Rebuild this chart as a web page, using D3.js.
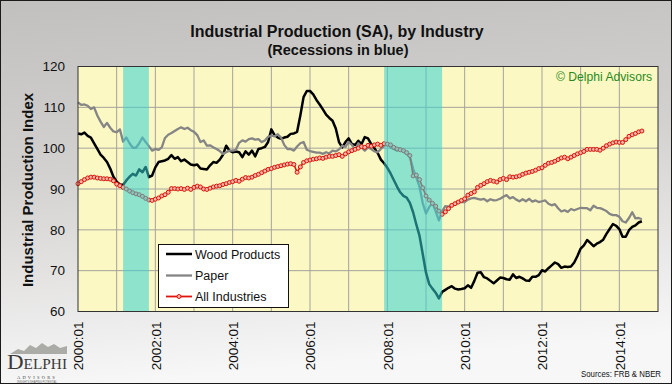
<!DOCTYPE html>
<html><head><meta charset="utf-8">
<script src="https://cdn.jsdelivr.net/npm/d3@7"></script>
<style>body{margin:0;background:#fff}svg{display:block}</style>
</head><body>
<script>
// ---------- data ----------
const xTickLabels = ["2000:01","2002:01","2004:01","2006:01","2008:01","2010:01","2012:01","2014:01"];
const yTicks = [60,70,80,90,100,110,120];
// recession spans as month offsets from 2000:01 (2001:03-2001:11, 2007:12-2009:06)
const recessions = [[14,22],[95,113]];
const seriesNames = ["Wood Products","Paper","All Industries"];

const wood = [
103.6,103.4,103.8,103.0,102.6,101.2,99.8,98.4,97.6,96.6,95.0,93.0,
91.8,91.1,91.0,92.1,93.0,93.7,93.3,94.8,94.1,95.4,92.9,93.3,
95.3,96.6,96.8,97.0,97.4,98.3,97.4,97.8,96.8,97.2,96.6,96.0,
95.8,96.0,95.0,94.9,94.8,95.8,96.6,96.4,97.2,98.4,100.6,99.4,
99.0,99.2,99.0,97.8,99.2,98.4,99.4,98.0,99.8,100.0,100.3,101.5,
104.6,103.2,102.6,102.3,102.6,102.8,103.5,103.6,104.0,108.0,112.5,114.0,
114.0,113.2,111.8,110.7,109.5,108.2,107.4,106.7,104.8,101.5,100.2,101.5,
102.4,101.0,100.8,101.8,101.0,102.7,102.4,101.0,100.0,98.8,97.2,96.3,
95.2,93.8,92.2,90.6,89.2,88.3,87.9,86.6,84.3,81.3,78.5,74.0,
69.5,66.7,65.6,64.6,63.2,64.8,65.3,65.8,66.2,65.6,65.4,65.5,
65.7,66.4,65.8,67.5,69.5,69.6,68.4,68.1,67.5,66.9,67.6,68.3,
68.2,67.9,67.8,69.1,68.2,68.5,68.1,67.6,67.5,68.5,68.5,68.9,
70.1,69.8,70.6,71.3,72.0,71.6,70.7,71.0,70.9,71.0,72.0,73.6,
75.4,76.2,77.5,76.8,76.0,76.6,77.0,77.6,79.0,80.2,81.4,81.0,
80.2,78.3,78.3,79.9,80.7,81.1,81.8,82.1];

const paper = [
111.2,110.6,110.7,110.4,109.6,110.0,108.0,106.5,105.2,106.2,105.0,104.1,
103.9,104.6,101.6,102.6,101.2,100.1,100.1,101.2,102.6,101.5,100.5,99.4,
99.8,99.6,100.2,102.5,103.3,103.7,104.2,104.7,105.1,104.7,105.0,104.4,
104.0,103.2,101.5,101.9,100.6,100.7,100.2,99.8,99.3,98.6,99.0,99.4,
99.4,99.6,101.3,101.9,101.6,102.2,102.4,102.1,102.2,101.5,101.9,102.8,
103.1,102.9,103.4,102.6,100.8,99.8,99.8,99.4,100.4,101.2,101.5,99.6,
99.3,99.1,98.9,98.9,98.6,99.0,98.7,99.4,99.2,99.7,100.6,100.3,
101.5,100.8,99.6,101.2,100.2,99.4,100.2,99.8,99.2,99.0,99.8,100.5,
101.1,100.2,99.8,99.4,100.0,99.1,98.6,97.8,95.0,92.8,90.5,86.5,
84.0,85.6,86.6,84.5,82.3,84.5,85.8,85.7,86.0,86.3,86.7,86.8,
86.8,87.4,87.7,87.8,87.6,87.4,87.6,87.0,87.5,87.2,87.3,87.6,
88.1,88.5,87.7,88.0,87.4,87.0,87.5,87.0,87.6,86.9,87.2,86.8,
87.0,87.2,86.4,86.0,86.3,85.3,84.5,84.8,84.4,85.1,84.8,85.1,
85.4,85.3,85.3,84.8,85.9,85.4,85.3,85.0,84.6,83.9,83.6,83.6,
83.2,82.1,81.8,82.9,84.3,82.8,82.9,82.6];

const allIndustries = [
91.3,91.8,92.3,92.7,92.9,92.9,92.7,92.6,92.5,92.5,92.4,92.0,
91.2,90.8,90.4,90.0,89.5,89.1,88.8,88.6,88.2,87.7,87.3,87.2,
87.5,87.8,88.3,88.6,89.2,90.1,90.1,90.0,90.1,89.9,90.2,89.9,
90.4,90.7,90.5,90.0,89.9,90.2,90.5,90.7,90.8,91.1,91.3,91.6,
91.8,92.1,91.9,92.4,92.8,92.7,92.9,93.3,93.6,94.0,94.4,94.8,
95.0,95.3,95.5,95.7,95.9,96.1,96.2,96.0,94.1,95.4,96.5,96.9,
97.1,97.3,97.4,97.6,97.5,97.8,98.0,98.0,98.2,98.4,98.0,98.6,
99.1,99.4,99.7,100.0,100.4,100.2,100.7,100.5,100.8,101.0,100.7,101.1,
101.0,100.8,100.2,99.8,99.6,99.4,98.9,98.2,93.2,93.4,92.3,90.3,
88.3,87.3,86.5,85.8,84.6,83.8,84.4,85.2,86.0,86.4,86.8,87.2,
87.6,88.5,88.9,89.3,90.4,90.9,91.3,91.8,92.1,91.9,91.7,92.3,
92.6,92.3,93.0,92.9,93.0,93.2,93.6,93.9,94.1,94.3,94.6,95.0,
95.2,95.8,96.3,96.5,96.8,97.2,97.6,97.8,97.4,97.8,98.2,98.6,
98.9,99.2,99.7,99.7,99.7,99.7,99.5,100.0,100.6,101.0,101.3,101.5,
101.4,101.4,102.1,102.9,103.3,103.6,104.0,104.2];

// ---------- drawing ----------
const W = 672, H = 384;
const FONT = "'Liberation Sans', Arial, Helvetica, sans-serif";
const svg = d3.select("body").append("svg").attr("width", W).attr("height", H)
  .style("font-family", FONT);

const defs = svg.append("defs");
const bgGrad = defs.append("linearGradient").attr("id","bg").attr("x1",0).attr("y1",0).attr("x2",0.15).attr("y2",1);
bgGrad.append("stop").attr("offset","0%").attr("stop-color","#c2c0be");
bgGrad.append("stop").attr("offset","45%").attr("stop-color","#d2d1cf");
bgGrad.append("stop").attr("offset","100%").attr("stop-color","#f7f7f7");

svg.append("rect").attr("width",W).attr("height",H).attr("fill","url(#bg)");

const x = d3.scaleLinear().domain([0,180]).range([78,658]);
const y = d3.scaleLinear().domain([60,120]).range([311.5,66.5]);
const [x0,x1] = x.range(), [yb,yt] = y.range();

// plot background
svg.append("rect").attr("x",x0).attr("y",yt).attr("width",x1-x0).attr("height",yb-yt).attr("fill","#fbf8c3");

// gridlines
const grid = svg.append("g").attr("stroke","#a4a39c").attr("stroke-width",1);
grid.selectAll("line.h").data(yTicks.slice(1,-1)).join("line")
  .attr("x1",x0).attr("x2",x1).attr("y1",d=>y(d)).attr("y2",d=>y(d));
grid.selectAll("line.v").data(d3.range(12,180,12)).join("line")
  .attr("x1",d=>x(d)).attr("x2",d=>x(d)).attr("y1",yt).attr("y2",yb);

// series
const line = d3.line().x((d,i)=>x(i)).y(d=>y(d));
svg.append("path").datum(wood).attr("d",line).attr("fill","none").attr("stroke","#000").attr("stroke-width",2.5).attr("stroke-linejoin","round");
svg.append("path").datum(paper).attr("d",line).attr("fill","none").attr("stroke","#858585").attr("stroke-width",2.3).attr("stroke-linejoin","round");
svg.append("path").datum(allIndustries).attr("d",line).attr("fill","none").attr("stroke","#e0140a").attr("stroke-width",1.6);
svg.append("g").selectAll("circle").data(allIndustries).join("circle")
  .attr("cx",(d,i)=>x(i)).attr("cy",d=>y(d)).attr("r",2)
  .attr("fill","#f6b4a4").attr("stroke","#d8140a").attr("stroke-width",1);

// recession bands (semi-transparent, over the lines)
svg.append("g").selectAll("rect").data(recessions).join("rect")
  .attr("x",d=>x(d[0])).attr("width",d=>x(d[1])-x(d[0]))
  .attr("y",yt).attr("height",yb-yt)
  .attr("fill","rgb(52,210,212)").attr("fill-opacity",0.55);

// plot border
svg.append("rect").attr("x",x0).attr("y",yt).attr("width",x1-x0).attr("height",yb-yt)
  .attr("fill","none").attr("stroke","#333").attr("stroke-width",1);

// y axis
const yAxis = svg.append("g").attr("transform",`translate(${x0},0)`)
  .call(d3.axisLeft(y).tickValues(yTicks).tickSize(0).tickPadding(13).tickFormat(d3.format("d")));
yAxis.select(".domain").remove();
yAxis.selectAll("text").attr("font-size",13.5).attr("fill","#111").style("font-family",FONT);

// x axis
const xAxis = svg.append("g").attr("transform",`translate(0,${yb})`)
  .call(d3.axisBottom(x).tickValues(d3.range(0,169,24)).tickSize(0).tickFormat((d,i)=>xTickLabels[i]));
xAxis.select(".domain").remove();
xAxis.selectAll("text").attr("transform","rotate(-90)").attr("text-anchor","end")
  .attr("x",-10).attr("y",0).attr("dy","0.36em").attr("font-size",13.5).attr("fill","#111").style("font-family",FONT);

// titles
svg.append("text").attr("x",337).attr("y",37).attr("text-anchor","middle")
  .attr("font-size",16).attr("font-weight","bold").attr("fill","#111").text("Industrial Production (SA), by Industry");
svg.append("text").attr("x",338).attr("y",55).attr("text-anchor","middle")
  .attr("font-size",14.5).attr("font-weight","bold").attr("fill","#111").text("(Recessions in blue)");
svg.append("text").attr("transform","translate(33,190) rotate(-90)").attr("text-anchor","middle")
  .attr("font-size",15).attr("font-weight","bold").attr("fill","#111").text("Industrial Production Index");

// copyright
svg.append("text").attr("x",652).attr("y",81).attr("text-anchor","end")
  .attr("font-size",13).attr("fill","#2a8a22").attr("textLength",96).attr("lengthAdjust","spacingAndGlyphs")
  .text("\u00A9 Delphi Advisors");

// legend
const lg = svg.append("g");
lg.append("rect").attr("x",158.5).attr("y",244.5).attr("width",130).attr("height",63)
  .attr("fill","#fff").attr("stroke","#111").attr("stroke-width",1);
const legendStyle = [
  {c:"#000", w:2.5, m:false},
  {c:"#858585", w:2.3, m:false},
  {c:"#e0140a", w:1.8, m:true}];
const rowY = [254, 275.5, 296.5];
seriesNames.forEach((n,i)=>{
  lg.append("line").attr("x1",166).attr("x2",192).attr("y1",rowY[i]).attr("y2",rowY[i])
    .attr("stroke",legendStyle[i].c).attr("stroke-width",legendStyle[i].w);
  if (legendStyle[i].m) lg.append("circle").attr("cx",179).attr("cy",rowY[i]).attr("r",2)
    .attr("fill","#f6b4a4").attr("stroke","#d8140a");
  lg.append("text").attr("x",195).attr("y",rowY[i]).attr("dy","0.36em")
    .attr("font-size",12.5).attr("fill","#111").text(n);
});

// sources
svg.append("text").attr("x",661).attr("y",377).attr("text-anchor","end")
  .attr("font-size",9).attr("fill","#111").attr("textLength",80).attr("lengthAdjust","spacingAndGlyphs")
  .text("Sources:  FRB & NBER");

// logo
const logo = svg.append("g");
logo.append("path").attr("d","M10,354 L18,349 L24,351 L30,345 L36,348 L42,343 L48,347 L54,344 L60,348 L67,346 L67,354 Z")
  .attr("fill","#9a9a96").attr("opacity",0.8);
logo.append("text").attr("x",7).attr("y",369).attr("font-family","'Liberation Serif', 'DejaVu Serif', serif")
  .attr("fill","#3a3a3a").attr("textLength",60).attr("lengthAdjust","spacingAndGlyphs")
  .call(t=>{ t.append("tspan").attr("font-size",21).text("D"); t.append("tspan").attr("font-size",14).text("ELPHI"); });
logo.append("text").attr("x",37).attr("y",378.5).attr("text-anchor","middle").attr("font-size",4.5)
  .attr("font-family","'Liberation Serif', serif").attr("fill","#444").attr("letter-spacing",2.2).text("ADVISORS");
logo.append("text").attr("x",37).attr("y",382.5).attr("text-anchor","middle").attr("font-size",2.6)
  .attr("fill","#666").text("INSIGHTS SHAPING POTENTIAL");

// outer border
svg.append("rect").attr("x",0.5).attr("y",0.5).attr("width",W-1).attr("height",H-1)
  .attr("fill","none").attr("stroke","#1a1a1a").attr("stroke-width",1);
</script>
</body></html>
